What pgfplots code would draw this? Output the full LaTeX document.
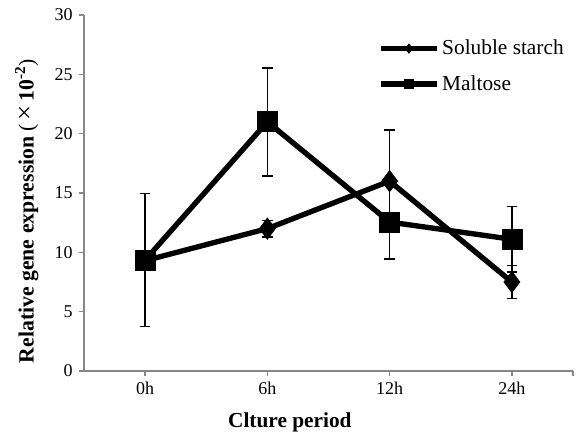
\documentclass[border=0pt]{standalone}
\usepackage{fontspec}
\setmainfont{Liberation Serif}
\usepackage{pgfplots}
\pgfplotsset{compat=1.18}

% mean values and standard deviations
\pgfplotstableread{
x  y     e
0  9.3   0.3
1  12.0  0.7
2  16.0  4.3
3  7.5   1.4
}\starch
\pgfplotstableread{
x  y     e
0  9.35  5.6
1  21.0  4.55
2  12.55 3.1
3  11.1  2.75
}\maltose

\definecolor{axisgray}{HTML}{878787}

\begin{document}
\begin{tikzpicture}
\useasboundingbox (-63pt,-52.5pt) rectangle (372.75pt,278.25pt);
\begin{axis}[
  at={(0,0)}, anchor=south west,
  scale only axis,
  width=366.75pt, height=267pt,
  xmin=-0.5, xmax=3.5,
  ymin=0, ymax=30,
  axis x line=bottom, axis y line=left,
  axis line style={axisgray, line width=1.1pt, -},
  xtick={0,1,2,3},
  xticklabels={0h,6h,12h,24h},
  extra x ticks={3.5},
  extra x tick labels={},
  ytick={0,5,...,30},
  tick align=outside,
  major tick length=4pt,
  tick style={axisgray, line width=1.1pt},
  /pgf/number format/assume math mode=true,
  tick label style={font=\fontsize{13.5}{16}\selectfont},
  yticklabel style={xshift=-1pt},
  xticklabel style={yshift=-1pt},
  xlabel={\textbf{Clture period}},
  ylabel={\textbf{Relative gene expression} (\,{\fontsize{20}{20}\selectfont ×}\,\textbf{10\textsuperscript{-2}})},
  xlabel style={font=\fontsize{16}{18}\selectfont, at={(axis description cs:0.421,-0.105)}, anchor=north},
  ylabel style={font=\fontsize{16.3}{18}\selectfont, at={(axis description cs:-0.117,0.449)}, anchor=center},
  clip=false,
  legend style={draw=none, fill=none, at={(0.593,0.945)}, anchor=north west,
    font=\fontsize{16}{18}\selectfont, row sep=10pt},
  legend cell align=left,
  legend image code/.code={
    \draw[#1, mark size=3.5pt, mark repeat=2, mark phase=2]
      plot coordinates {(0pt,0pt) (21pt,0pt) (42pt,0pt)};
  },
]
\addplot[black, line width=4pt, mark=diamond*, mark size=8pt,
  mark options={solid, line width=0.5pt},
  error bars/.cd, y dir=both, y explicit,
  error bar style={black, line width=1.1pt},
  error mark options={rotate=90, mark size=4pt, black, line width=1.1pt}]
  table[x=x, y=y, y error=e] {\starch};
\addlegendentry{Soluble starch}
\addplot[black, line width=4pt, mark=square*, mark size=7.5pt,
  mark options={solid, line width=0.5pt},
  error bars/.cd, y dir=both, y explicit,
  error bar style={black, line width=1.1pt},
  error mark options={rotate=90, mark size=4pt, black, line width=1.1pt}]
  table[x=x, y=y, y error=e] {\maltose};
\addlegendentry{Maltose}
\end{axis}
\end{tikzpicture}
\end{document}
